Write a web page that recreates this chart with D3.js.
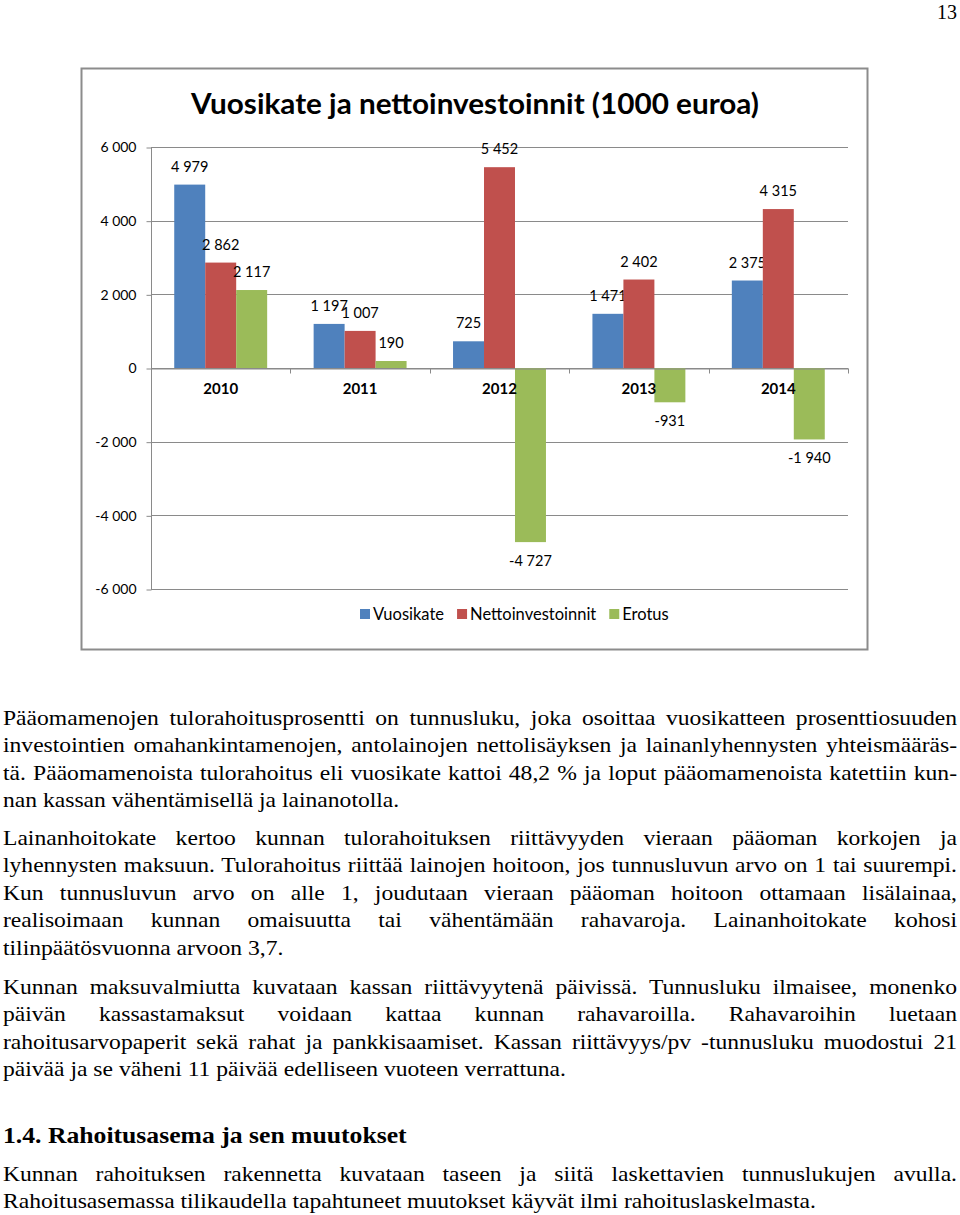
<!DOCTYPE html>
<html>
<head>
<meta charset="utf-8">
<script src="https://cdn.jsdelivr.net/npm/d3@7"></script>
<style>
  body { margin: 0; background: #fff; }
  svg { display: block; }
</style>
</head>
<body>
<div class="content"></div>
<script>
// chart data (1000 euroa)
var years = ["2010", "2011", "2012", "2013", "2014"];
var seriesNames = ["Vuosikate", "Nettoinvestoinnit", "Erotus"];
var vuosikate = [4979, 1197, 725, 1471, 2375];
var nettoinvestoinnit = [2862, 1007, 5452, 2402, 4315];
var erotus = [2117, 190, -4727, -931, -1940];
var yTicks = [-6000, -4000, -2000, 0, 2000, 4000, 6000];
var colors = ["#4f81bd", "#c0504d", "#9bbb59"];

// body text, one entry per printed line; 1 = justified
var paragraphs = [
  [["Pääomamenojen tulorahoitusprosentti on tunnusluku, joka osoittaa vuosikatteen prosenttiosuuden", 1],
   ["investointien omahankintamenojen, antolainojen nettolisäyksen ja lainanlyhennysten yhteismääräs-", 1],
   ["tä. Pääomamenoista tulorahoitus eli vuosikate kattoi 48,2 % ja loput pääomamenoista katettiin kun-", 1],
   ["nan kassan vähentämisellä ja lainanotolla.", 0]],
  [["Lainanhoitokate kertoo kunnan tulorahoituksen riittävyyden vieraan pääoman korkojen ja", 1],
   ["lyhennysten maksuun. Tulorahoitus riittää lainojen hoitoon, jos tunnusluvun arvo on 1 tai suurempi.", 1],
   ["Kun tunnusluvun arvo on alle 1, joudutaan vieraan pääoman hoitoon ottamaan lisälainaa,", 1],
   ["realisoimaan kunnan omaisuutta tai vähentämään rahavaroja. Lainanhoitokate kohosi", 1],
   ["tilinpäätösvuonna arvoon 3,7.", 0]],
  [["Kunnan maksuvalmiutta kuvataan kassan riittävyytenä päivissä. Tunnusluku ilmaisee, monenko", 1],
   ["päivän kassastamaksut voidaan kattaa kunnan rahavaroilla. Rahavaroihin luetaan", 1],
   ["rahoitusarvopaperit sekä rahat ja pankkisaamiset. Kassan riittävyys/pv -tunnusluku muodostui 21", 1],
   ["päivää ja se väheni 11 päivää edelliseen vuoteen verrattuna.", 0]]
];
var heading = "1.4. Rahoitusasema ja sen muutokset";
var lastParagraph = [
  ["Kunnan rahoituksen rakennetta kuvataan taseen ja siitä laskettavien tunnuslukujen avulla.", 1],
  ["Rahoitusasemassa tilikaudella tapahtuneet muutokset käyvät ilmi rahoituslaskelmasta.", 0]
];

var svg = d3.select('.content').append('svg')
    .attr('width', 960)
    .attr('height', 1215);

var chartFont = "Lato, 'Open Sans', sans-serif";
var serif = "'Liberation Serif', 'Times New Roman', serif";

function fmt(d) {
  return d3.format(",")(d).replace(/,/g, " ").replace("\u2212", "-");
}

// page number
svg.append('text')
    .attr('x', 957).attr('y', 19)
    .attr('text-anchor', 'end')
    .style('font-family', serif).style('font-size', '20px')
    .text('13');

// chart frame
svg.append('rect')
    .attr('x', 81.5).attr('y', 68.5)
    .attr('width', 786).attr('height', 581)
    .attr('fill', '#fff')
    .attr('stroke', '#8c8c8c').attr('stroke-width', 2);

svg.append('text')
    .attr('x', 191).attr('y', 114)
    .attr('textLength', 568).attr('lengthAdjust', 'spacingAndGlyphs')
    .style('font-family', chartFont).style('font-size', '29px').style('font-weight', 'bold')
    .text('Vuosikate ja nettoinvestoinnit (1000 euroa)');

var x = d3.scaleBand().domain(years).range([151, 848]);
var y = d3.scaleLinear().domain([-6000, 6000]).range([589, 147]);
var barW = x.bandwidth() / 4.5;

// gridlines
svg.append('g').selectAll('line').data(yTicks).enter().append('line')
    .attr('x1', 151).attr('x2', 848)
    .attr('y1', function(d) { return Math.round(y(d)) + 0.5; })
    .attr('y2', function(d) { return Math.round(y(d)) + 0.5; })
    .attr('stroke', '#8a8a8a').attr('stroke-width', 1);

// y axis
var yAxis = d3.axisLeft(y).tickValues(yTicks).tickSize(5).tickPadding(10).tickFormat(fmt);
var gy = svg.append('g').attr('transform', 'translate(151.5,0.5)').call(yAxis);
gy.selectAll('path, line').attr('stroke', '#8a8a8a');
gy.select('.domain').attr('d', 'M0,' + Math.round(y(6000)) + 'V' + Math.round(y(-6000)));
gy.selectAll('text').style('font-family', chartFont).style('font-size', '14px').attr('fill', '#000');

// bars
var series = [vuosikate, nettoinvestoinnit, erotus];
series.forEach(function(values, s) {
  var g = svg.append('g');
  g.selectAll('rect').data(values).enter().append('rect')
      .attr('x', function(d, i) { return x(years[i]) + 0.75 * barW + s * barW; })
      .attr('width', barW)
      .attr('y', function(d) { return y(Math.max(d, 0)); })
      .attr('height', function(d) { return Math.abs(y(d) - y(0)); })
      .attr('fill', colors[s]);
  g.selectAll('text').data(values).enter().append('text')
      .attr('x', function(d, i) { return x(years[i]) + 0.75 * barW + s * barW + barW / 2; })
      .attr('y', function(d) { return d >= 0 ? y(d) - 13 : y(d) + 24; })
      .attr('text-anchor', 'middle')
      .style('font-family', chartFont).style('font-size', '14.5px')
      .text(fmt);
});

// x axis at zero
var xAxis = d3.axisBottom(x).tickSize(0).tickPadding(15);
var gx = svg.append('g').attr('transform', 'translate(0,' + (Math.round(y(0)) + 0.5) + ')').call(xAxis);
gx.select('.domain').attr('stroke', '#8a8a8a');
gx.selectAll('text').style('font-family', chartFont).style('font-size', '15px')
    .style('font-weight', 'bold').attr('fill', '#000');
gx.selectAll('.sep').data(years.concat(['end'])).enter().append('line')
    .attr('class', 'sep')
    .attr('x1', function(d, i) { return Math.round(151 + i * x.step()) + 0.5; })
    .attr('x2', function(d, i) { return Math.round(151 + i * x.step()) + 0.5; })
    .attr('y1', 0).attr('y2', 5)
    .attr('stroke', '#8a8a8a');

// legend
var legend = svg.append('g').attr('transform', 'translate(0,614)');
var lx = 360;
seriesNames.forEach(function(name, i) {
  legend.append('rect').attr('x', lx).attr('y', -5).attr('width', 10).attr('height', 10).attr('fill', colors[i]);
  var t = legend.append('text').attr('x', lx + 13).attr('y', 6)
      .style('font-family', chartFont).style('font-size', '16.5px').text(name);
  lx += 13 + t.node().getComputedTextLength() + 13;
});

// body text: Times-like, a little wider than the installed serif
function drawLine(str, justify, baseline, opts) {
  var stretch = opts && opts.stretch || 1.18;
  var t = svg.append('text')
      .attr('transform', 'translate(3,' + baseline + ') scale(' + stretch + ',1)')
      .style('font-family', serif)
      .style('font-size', opts && opts.size || '20px')
      .style('font-weight', opts && opts.bold ? 'bold' : 'normal')
      .text(str);
  var w = t.node().getComputedTextLength();
  var target = 954 / stretch;
  if (justify) {
    var spaces = str.split(' ').length - 1;
    t.style('word-spacing', ((target - w) / spaces) + 'px');
  } else if (w > target) {
    t.attr('textLength', target).attr('lengthAdjust', 'spacingAndGlyphs');
  }
}

var starts = [725, 845, 994];
paragraphs.forEach(function(p, k) {
  p.forEach(function(line, i) { drawLine(line[0], line[1], starts[k] + i * 27.4); });
});
drawLine(heading, 0, 1143, { size: '24px', bold: true, stretch: 1.07 });
lastParagraph.forEach(function(line, i) { drawLine(line[0], line[1], 1181 + i * 27.4); });
</script>
</body>
</html>
